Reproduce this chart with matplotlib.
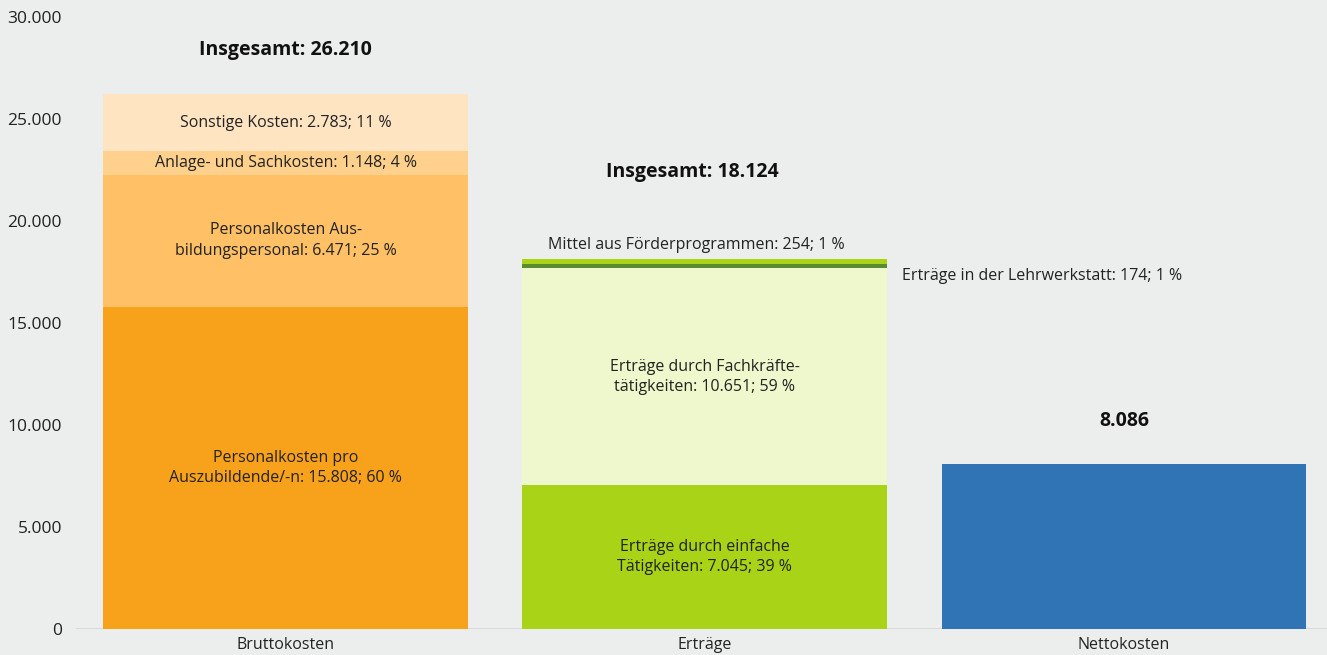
import numpy as np
import matplotlib.pyplot as plt

plt.rcParams['font.family'] = ['Open Sans', 'DejaVu Sans']

categories = ["Bruttokosten", "Erträge", "Nettokosten"]

brutto_names = ["Personalkosten pro\nAuszubildende/-n", "Personalkosten Aus-\nbildungspersonal",
                "Anlage- und Sachkosten", "Sonstige Kosten"]
brutto_values = [15808, 6471, 1148, 2783]
brutto_pct = [60, 25, 4, 11]
brutto_colors = ["#f8a11b", "#ffc066", "#ffd18c", "#ffe4c2"]

ertrag_names = ["Erträge durch einfache\nTätigkeiten", "Erträge durch Fachkräfte-\ntätigkeiten",
                "Erträge in der Lehrwerkstatt", "Mittel aus Förderprogrammen"]
ertrag_values = [7045, 10651, 174, 254]
ertrag_pct = [39, 59, 1, 1]
ertrag_colors = ["#a8d316", "#eff8cd", "#5b8a33", "#a8d316"]

netto_value = 8086
netto_color = "#3174b6"

bg = "#eceeed"
lab_fs = 11.5


def de(v):
    return f"{v:,}".replace(",", ".")


fig = plt.figure(figsize=(13.27, 6.55), dpi=100, facecolor=bg)
ax = fig.add_axes([76 / 1327, 26 / 655, 1 - 76 / 1327, 612 / 655])
ax.set_facecolor(bg)

w = 0.87
x = np.arange(len(categories))

# Bruttokosten
bottom = 0
for i, (n, v, p, c) in enumerate(zip(brutto_names, brutto_values, brutto_pct, brutto_colors)):
    ax.bar(x[0], v, w, bottom=bottom, color=c, zorder=2)
    ax.text(x[0], bottom + v / 2, f"{n}: {de(v)}; {p} %", ha="center", va="center",
            fontsize=lab_fs, color="#222222", zorder=3, linespacing=1.35)
    bottom += v
brutto_total = bottom
ax.text(x[0], 28380, f"Insgesamt: {de(brutto_total)}", ha="center", va="center",
        fontsize=14, fontweight="bold", color="#111111")

# Erträge
bottom = 0
for i, (n, v, p, c) in enumerate(zip(ertrag_names, ertrag_values, ertrag_pct, ertrag_colors)):
    ax.bar(x[1], v, w, bottom=bottom, color=c, zorder=2)
    label = f"{n}: {de(v)}; {p} %"
    if i < 2:
        ax.text(x[1], bottom + v / 2, label, ha="center", va="center",
                fontsize=lab_fs, color="#222222", zorder=3, linespacing=1.35)
    elif i == 2:
        ax.text(x[1] + w / 2 + 0.035, 17300, label, ha="left", va="center",
                fontsize=lab_fs, color="#222222")
    else:
        ax.text(x[1] - w / 2 + 0.06, 18830, label, ha="left", va="center",
                fontsize=lab_fs, color="#222222")
    bottom += v
ertrag_total = bottom
ax.text(x[1] - 0.03, 22400, f"Insgesamt: {de(ertrag_total)}", ha="center", va="center",
        fontsize=14, fontweight="bold", color="#111111")

# Nettokosten
ax.bar(x[2], netto_value, w, color=netto_color, zorder=2)
ax.text(x[2], 10200, de(netto_value), ha="center", va="center",
        fontsize=14, fontweight="bold", color="#111111")

ax.axhline(0, color="#d4d6d5", lw=1.2, zorder=1)

ax.set_xlim(-0.5, 2.484)
ax.set_ylim(0, 30000)
ax.set_xticks(x)
ax.set_xticklabels(categories, fontsize=11.5, color="#222222")
yt = np.arange(0, 30001, 5000)
ax.set_yticks(yt)
ax.set_yticklabels([de(int(t)) for t in yt], fontsize=12.5, color="#222222")
ax.tick_params(length=0)
ax.tick_params(axis="x", pad=6)
ax.tick_params(axis="y", pad=10)
for s in ax.spines.values():
    s.set_visible(False)

fig.savefig("out.png", dpi=100, facecolor=bg)
